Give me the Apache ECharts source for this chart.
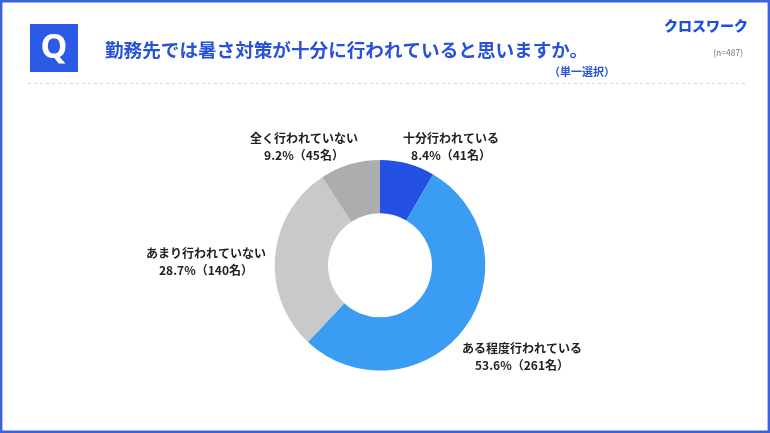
<!DOCTYPE html>
<html>
<head>
<meta charset="utf-8">
<script src="https://cdn.jsdelivr.net/npm/echarts@6/dist/echarts.min.js"></script>
<style>
html,body{margin:0;padding:0;background:#fff;}
#c{width:770px;height:433px;}
</style>
</head>
<body>
<div id="c"></div>
<script>
const categories = ['十分行われている', 'ある程度行われている', 'あまり行われていない', '全く行われていない'];
const counts = [41, 261, 140, 45];
const percents = ['8.4', '53.6', '28.7', '9.2'];
const totalN = 487;
const titleText = '勤務先では暑さ対策が十分に行われていると思いますか。';
const subText = '（単一選択）';

const colors = ['#2450e4', '#3a9cf2', '#c9c9c9', '#adadad'];
const labelPos = [[451, 147], [522, 357], [206, 262], [304, 147]];
const FONT = '"Noto Sans CJK JP", "Noto Sans", sans-serif';

const chart = echarts.init(document.getElementById('c'), null, {renderer: 'canvas'});
chart.setOption({
  backgroundColor: '#fff',
  animation: false,
  graphic: [
    {type: 'rect', shape: {x: 1.2, y: 1.2, width: 767.6, height: 430.6}, style: {fill: 'none', stroke: '#3a62dc', lineWidth: 2.4}, z: 10},
    {type: 'rect', shape: {x: 30, y: 24, width: 48, height: 48}, style: {fill: '#2a5ae6'}},
    {type: 'text', x: 54, y: 48, style: {text: 'Q', fill: '#fff', font: 'bold 34px "Noto Sans", sans-serif', align: 'center', verticalAlign: 'middle'}},
    {type: 'text', x: 105, y: 50, style: {text: titleText, fill: '#2a52d8', font: 'bold 18.6px ' + FONT, align: 'left', verticalAlign: 'middle'}},
    {type: 'text', x: 615, y: 72, style: {text: subText, fill: '#2a52d8', font: 'bold 11px ' + FONT, align: 'right', verticalAlign: 'middle'}},
    {type: 'text', x: 748, y: 26, style: {text: 'クロスワーク', fill: '#1f4fe0', font: '900 14px ' + FONT, align: 'right', verticalAlign: 'middle'}},
    {type: 'text', x: 743, y: 52.5, style: {text: '(n=' + totalN + ')', fill: '#777', font: '8.5px ' + FONT, align: 'right', verticalAlign: 'middle'}},
    {type: 'line', shape: {x1: 28, y1: 83.5, x2: 745, y2: 83.5}, style: {stroke: '#d4d4d4', lineWidth: 1, lineDash: [3, 3]}}
  ],
  series: [{
    type: 'pie',
    center: [380, 265.3],
    radius: [52, 105.3],
    startAngle: 90,
    clockwise: true,
    avoidLabelOverlap: false,
    data: categories.map((c, i) => ({name: c, value: counts[i], itemStyle: {color: colors[i]}})),
    itemStyle: {borderWidth: 0},
    label: {
      show: true,
      position: 'outside',
      formatter: p => p.name + '\n' + percents[p.dataIndex] + '%（' + counts[p.dataIndex] + '名）',
      color: '#222',
      fontFamily: FONT,
      fontWeight: 'bold',
      fontSize: 12,
      lineHeight: 17,
      align: 'center'
    },
    labelLine: {show: false},
    labelLayout: p => ({x: labelPos[p.dataIndex][0], y: labelPos[p.dataIndex][1], align: 'center', verticalAlign: 'middle'}),
    emphasis: {disabled: true}
  }]
});
</script>
</body>
</html>
